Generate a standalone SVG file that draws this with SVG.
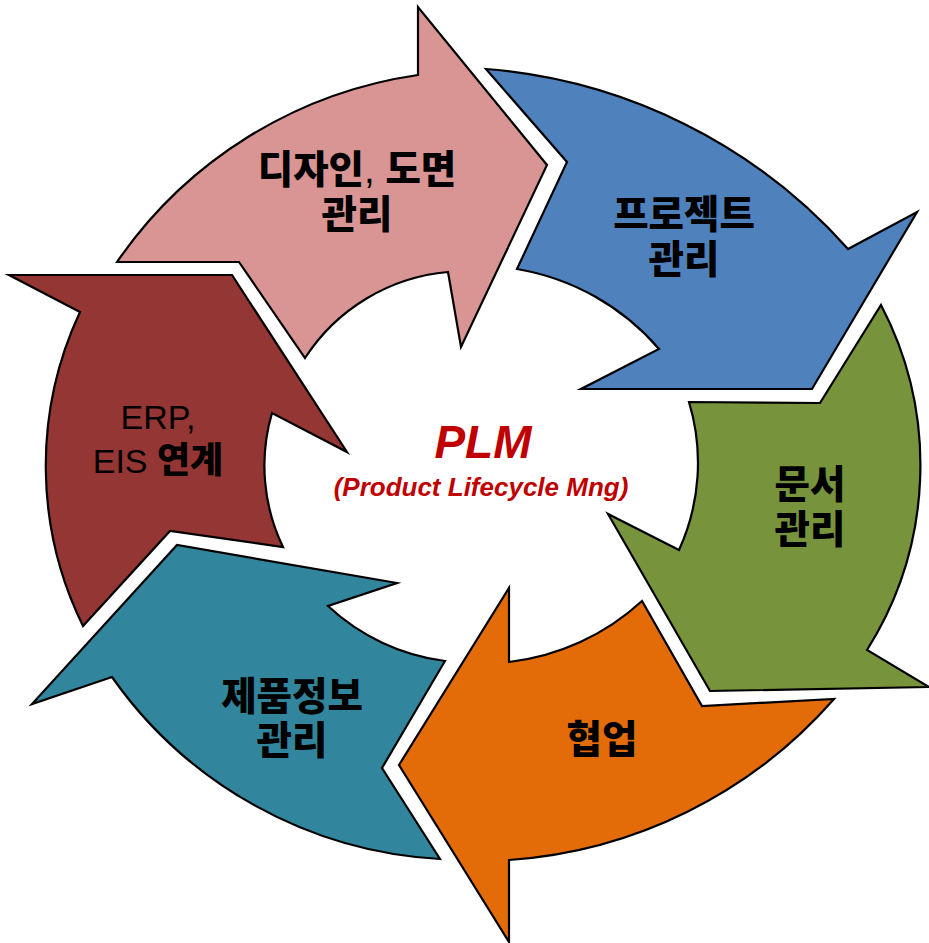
<svg xmlns="http://www.w3.org/2000/svg" width="929" height="943" viewBox="0 0 929 943">
<style>
.arrow{stroke:#000;stroke-width:2.2;stroke-linejoin:miter;stroke-miterlimit:10}
.lbl{font-family:"Liberation Sans","Noto Sans CJK KR",sans-serif;font-weight:900;font-size:38.5px;fill:#000;text-anchor:middle}
.lblr{font-family:"Liberation Sans","Noto Sans CJK KR",sans-serif;font-size:34px;fill:#000;text-anchor:middle}
.ko{font-family:"Noto Sans CJK KR",sans-serif;font-weight:900;font-size:36px}
.plm{font-family:"Liberation Sans",Arial,sans-serif;font-weight:bold;font-style:italic;fill:#C00000;text-anchor:middle}
</style>
<rect width="929" height="943" fill="#fff"/>
<g id="design">
<path class="arrow" fill="#D99594" d="M117,262 A442,442 0 0 1 418,75 L418,7 L547,165 L461,347 L448,272 A190,190 0 0 0 305,358 L239,262 Z"/>
<text class="lbl" x="357" y="183">디자인<tspan font-weight="normal">,</tspan> 도면</text>
<text class="lbl" x="357" y="228">관리</text>
</g>
<g id="project">
<path class="arrow" fill="#4F81BD" d="M486,69 A542,542 0 0 1 848,249 L917,212 L812,389 L581,389 L659,349 A240,240 0 0 0 517,269 L567,162 Z"/>
<text class="lbl" x="684" y="228">프로젝트</text>
<text class="lbl" x="684" y="273">관리</text>
</g>
<g id="document">
<path class="arrow" fill="#77933C" d="M881,305 A346,346 0 0 1 867,650 L929,687 L710,691 L608,514 L679,550 A210,210 0 0 0 689,402 L820,403 Z"/>
<text class="lbl" x="810" y="498">문서</text>
<text class="lbl" x="810" y="543">관리</text>
</g>
<g id="collab">
<path class="arrow" fill="#E36C09" d="M834,699 A475,475 0 0 1 509,860 L509,942 L399,765 L509,588 L509,662 A237,237 0 0 0 642,601 L702,706 Z"/>
<text class="lbl" x="602" y="753">협업</text>
</g>
<g id="product">
<path class="arrow" fill="#31859C" d="M440,859 A430,430 0 0 1 112,677 L32,704 L177,545 L397,583 L328,606 A211,211 0 0 0 445,661 L382,768 Z"/>
<text class="lbl" x="292" y="710">제품정보</text>
<text class="lbl" x="292" y="754">관리</text>
</g>
<g id="erp">
<path class="arrow" fill="#943634" d="M83,626 A363,363 0 0 1 80,312 L9,275 L232,275 L347,452 L272,413 A187,187 0 0 0 283,547 L170,531 Z"/>
<text class="lblr" x="158" y="429">ERP,</text>
<text class="lblr" x="158" y="473">EIS <tspan class="ko">연계</tspan></text>
</g>
<g id="center">
<text class="plm" x="483" y="458" font-size="46">PLM</text>
<text class="plm" x="481" y="496" font-size="26">(Product Lifecycle Mng)</text>
</g>
<g id="connectors"/>
</svg>
